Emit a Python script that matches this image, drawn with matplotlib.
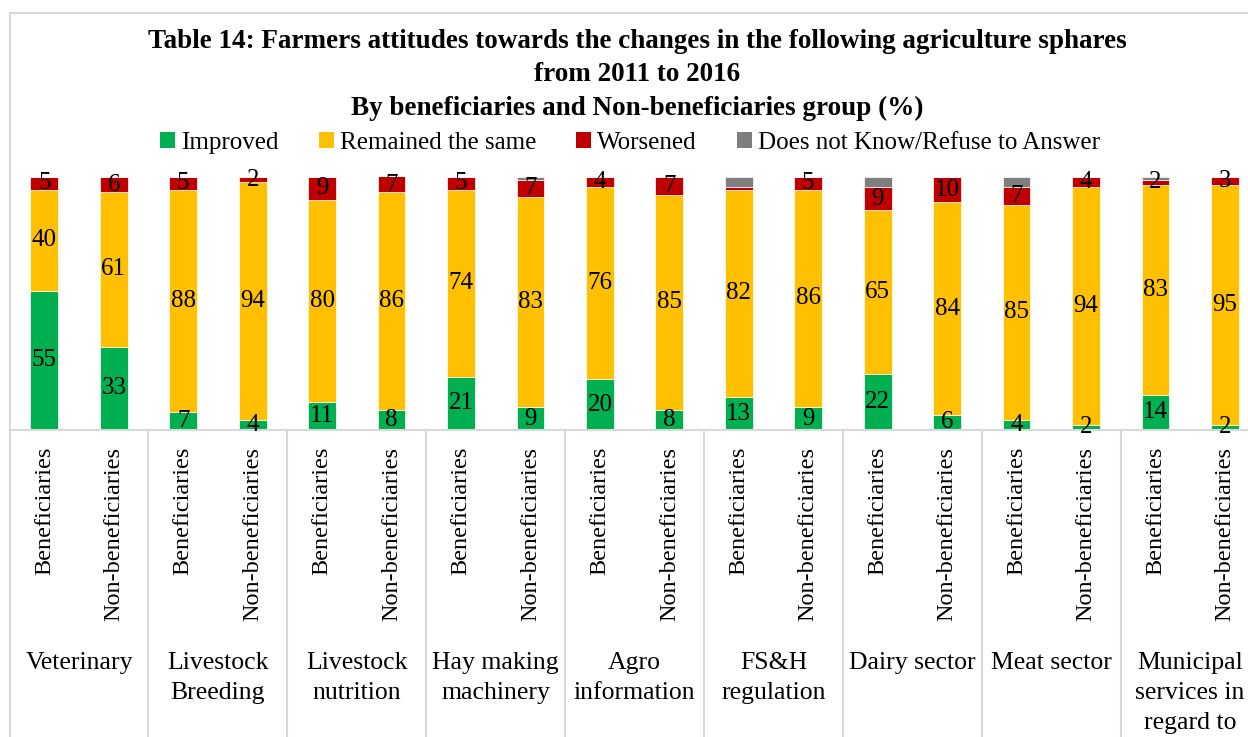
import numpy as np
import matplotlib
matplotlib.use("Agg")
import matplotlib.pyplot as plt
from matplotlib.patches import Patch, Rectangle

plt.rcParams['font.family'] = ['Liberation Serif', 'DejaVu Serif']

# Spheres (two bars each) and the respondent groups
spheres = ["Veterinary", "Livestock\nBreeding", "Livestock\nnutrition",
           "Hay making\nmachinery", "Agro\ninformation", "FS&H\nregulation",
           "Dairy sector", "Meat sector", "Municipal\nservices in\nregard to"]
groups = ["Beneficiaries", "Non-beneficiaries"]

# Shares in %, ordered Ben/Non for each sphere
improved = [55, 33, 7, 4, 11, 8, 21, 9, 20, 8, 13, 9, 22, 6, 4, 2, 14, 2]
same     = [40, 61, 88, 94, 80, 86, 74, 83, 76, 85, 82, 86, 65, 84, 85, 94, 83, 95]
worsened = [5, 6, 5, 2, 9, 7, 5, 7, 4, 7, 1, 5, 9, 10, 7, 4, 2, 3]
dont_know = [0, 0, 0, 0, 0, 0, 0, 1, 0, 0, 4, 0, 4, 0, 4, 0, 1, 0]

series = [("Improved", improved, "#00B050", True),
          ("Remained the same", same, "#FFC000", True),
          ("Worsened", worsened, "#C00000", True),
          ("Does not Know/Refuse to Answer", dont_know, "#7F7F7F", False)]

W, H = 1248, 737
fig = plt.figure(figsize=(W / 100, H / 100), dpi=100)
ax = fig.add_axes([9.6 / W, (H - 430) / H, 1250 / W, 253 / H])

x = np.arange(len(improved))
bottom = np.zeros(len(x))
for name, vals, color, show in series:
    vals = np.array(vals, dtype=float)
    bars = ax.bar(x, vals, 0.4, bottom=bottom, color=color,
                  edgecolor="white", linewidth=0.5, label=name)
    if show:
        # tiny 1% slivers are left unlabelled
        labels = [f"{v:g}" if v > 1 else "" for v in vals]
        ax.bar_label(bars, labels=labels, label_type="center",
                     fontsize=18, color="black")
    bottom += vals

ax.set_xlim(-0.5, len(x) - 0.5)
ax.set_ylim(0, 100)
ax.set_yticks([])
for s in ax.spines.values():
    s.set_visible(False)

ax.set_xticks(x)
ax.set_xticklabels(groups * len(spheres), rotation=90, fontsize=17.5)
ax.tick_params(axis="x", length=0, pad=12)

# category axis line and dividers between spheres
grid_c = "#D9D9D9"
ax.plot([-0.5, len(x) - 0.5], [0, 0], color=grid_c, lw=1.5, clip_on=False)
tr = ax.get_xaxis_transform()
for k in range(len(spheres) + 1):
    ax.plot([2 * k - 0.5, 2 * k - 0.5], [0, -1.4], color=grid_c, lw=1.5,
            transform=tr, clip_on=False)

for k, name in enumerate(spheres):
    ax.text(2 * k + 0.5, -0.877, name, transform=tr, ha="center", va="top",
            fontsize=18.5, linespacing=1.48)

# chart border
fig.patches.append(Rectangle((9.6 / W, -0.1), 1.1, 1.1 - 13 / H,
                             transform=fig.transFigure, fill=False,
                             edgecolor=grid_c, lw=1.5))

fig.text(637 / W, 1 - 75 / H,
         "Table 14: Farmers attitudes towards the changes in the following agriculture sphares\n"
         "from 2011 to 2016\n"
         "By beneficiaries and Non-beneficiaries group (%)",
         ha="center", va="center", fontsize=19.5, fontweight="bold",
         linespacing=1.44)

handles = [Patch(facecolor=c, label=n) for n, _, c, _ in series]
fig.legend(handles=handles, loc="center", ncol=4, frameon=False,
           bbox_to_anchor=(630 / W, 1 - 143 / H), fontsize=18,
           handlelength=0.6, handleheight=0.6, handletextpad=0.25,
           columnspacing=1.6)

fig.savefig("out.png", dpi=100)
